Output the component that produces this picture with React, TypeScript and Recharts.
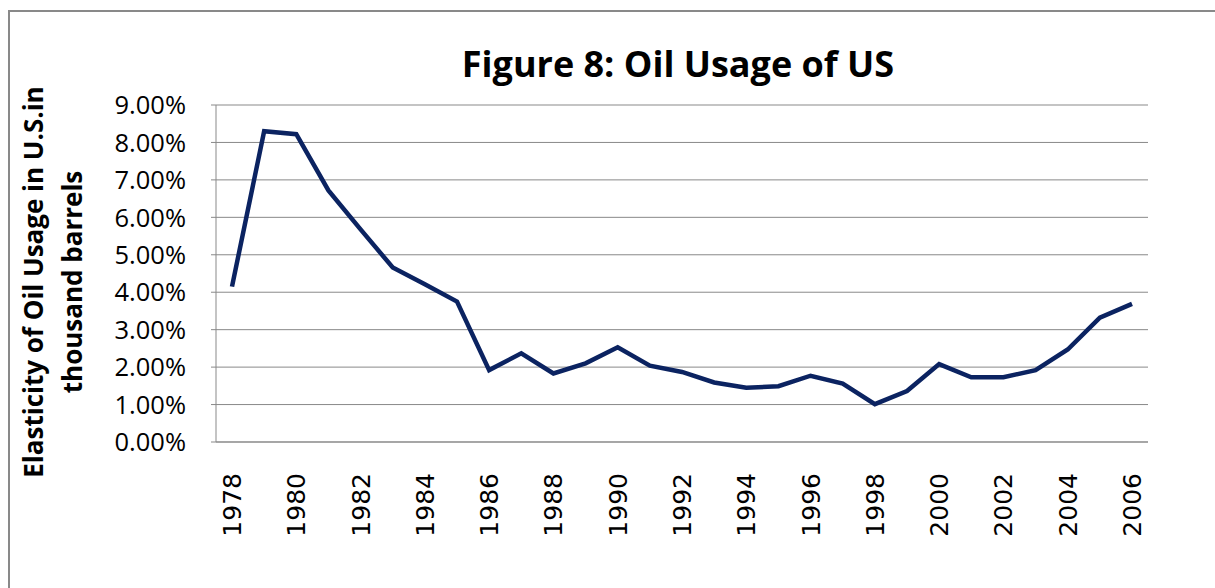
import React from "react";
import { LineChart, Line, XAxis, YAxis, CartesianGrid } from "recharts";

const years: string[] = [
  "1978", "1979", "1980", "1981", "1982", "1983", "1984", "1985", "1986", "1987",
  "1988", "1989", "1990", "1991", "1992", "1993", "1994", "1995", "1996", "1997",
  "1998", "1999", "2000", "2001", "2002", "2003", "2004", "2005", "2006",
];

const usage: number[] = [
  4.15, 8.3, 8.22, 6.72, 5.68, 4.66, 4.21, 3.75, 1.92, 2.37,
  1.83, 2.1, 2.53, 2.04, 1.87, 1.59, 1.45, 1.49, 1.77, 1.56,
  1.01, 1.36, 2.08, 1.73, 1.73, 1.92, 2.47, 3.32, 3.69,
];

const yTicks: number[] = [0, 1, 2, 3, 4, 5, 6, 7, 8, 9];

const titleText = "Figure 8: Oil Usage of US";
const yLabelLine1 = "Elasticity of Oil Usage in U.S.in";
const yLabelLine2 = "thousand barrels";

const data = years.map((y, i) => ({ year: y, value: usage[i] }));

const GRAY = "#898989";

const XTick = (props: any) => {
  const { x, y, payload } = props;
  return (
    <text
      x={x}
      y={y}
      transform={`rotate(-90, ${x}, ${y})`}
      textAnchor="end"
      dy="0.36em"
      fontFamily="'DejaVu Sans', sans-serif"
      fontSize={25}
      fill="#000"
    >
      {payload.value}
    </text>
  );
};

const YTick = (props: any) => {
  const { x, y, payload } = props;
  return (
    <text
      x={x}
      y={y}
      textAnchor="end"
      dy="0.36em"
      fontFamily="'Open Sans', sans-serif"
      fontSize={25.5}
      fill="#000"
    >
      {Number(payload.value).toFixed(2) + "%"}
    </text>
  );
};

export default function App() {
  return (
    <div
      style={{
        position: "relative",
        width: 1215,
        height: 588,
        overflow: "hidden",
        background: "#fff",
      }}
    >
      <style>{`body{margin:0}`}</style>
      <div
        style={{
          position: "absolute",
          left: 8,
          top: 10,
          width: 1300,
          height: 700,
          borderLeft: `2px solid ${GRAY}`,
          borderTop: `2px solid ${GRAY}`,
        }}
      />
      <div style={{ position: "absolute", left: 0, top: 0 }}>
        <LineChart
          width={1215}
          height={588}
          data={data}
          margin={{ top: 105, right: 67, bottom: 0, left: 0 }}
        >
          <CartesianGrid vertical={false} stroke={GRAY} strokeWidth={1} />
          <XAxis
            dataKey="year"
            interval={1}
            height={146}
            padding={{ left: 16, right: 16 }}
            tickSize={0}
            tickMargin={31}
            tickLine={false}
            axisLine={{ stroke: GRAY, strokeWidth: 1 }}
            tick={<XTick />}
          />
          <YAxis
            width={216}
            domain={[0, 9]}
            ticks={yTicks}
            tickSize={5}
            tickMargin={25}
            tickLine={{ stroke: GRAY }}
            axisLine={{ stroke: GRAY, strokeWidth: 1 }}
            tick={<YTick />}
          />
          <Line
            type="linear"
            dataKey="value"
            stroke="#0b2361"
            strokeWidth={4.5}
            dot={false}
            activeDot={false}
            isAnimationActive={false}
          />
        </LineChart>
      </div>
      <svg
        width={1215}
        height={588}
        style={{ position: "absolute", left: 0, top: 0, pointerEvents: "none" }}
      >
        <text
          x={678}
          y={77}
          textAnchor="middle"
          fontFamily="'Open Sans', sans-serif"
          fontWeight="bold"
          fontSize={36}
          fill="#000"
        >
          {titleText}
        </text>
        <text
          x={43}
          y={282}
          transform="rotate(-90, 43, 282)"
          textAnchor="middle"
          fontFamily="'Open Sans', sans-serif"
          fontWeight="bold"
          fontSize={26}
          fill="#000"
        >
          {yLabelLine1}
        </text>
        <text
          x={82}
          y={282}
          transform="rotate(-90, 82, 282)"
          textAnchor="middle"
          fontFamily="'Open Sans', sans-serif"
          fontWeight="bold"
          fontSize={26}
          fill="#000"
        >
          {yLabelLine2}
        </text>
      </svg>
    </div>
  );
}
